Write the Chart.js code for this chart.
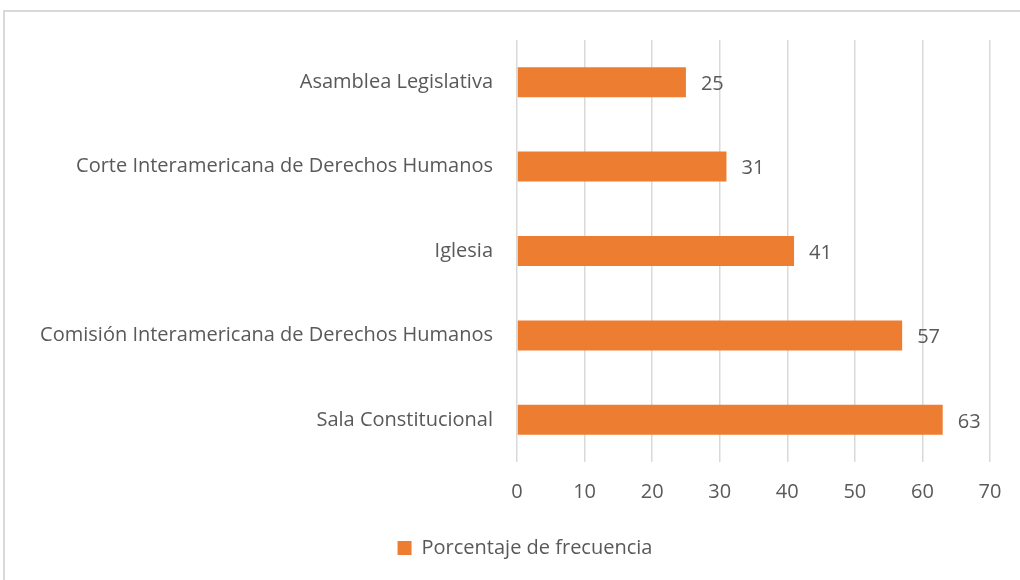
<!DOCTYPE html>
<html>
<head>
<meta charset="utf-8">
<script src="https://cdn.jsdelivr.net/npm/chart.js@4"></script>
<style>
  html, body { margin: 0; padding: 0; background: #fff; overflow: hidden; }
  #frame { position: absolute; left: 3px; top: 10px; width: 1040px; height: 600px; border: 2px solid #d9d9d9; box-sizing: border-box; }
  #c { position: absolute; left: 0; top: 0; }
</style>
</head>
<body>
<div id="frame"></div>
<canvas id="c" width="1020" height="580"></canvas>
<script>
const categories = [
  "Asamblea Legislativa",
  "Corte Interamericana de Derechos Humanos",
  "Iglesia",
  "Comisión Interamericana de Derechos Humanos",
  "Sala Constitucional"
];
const seriesName = "Porcentaje de frecuencia";
const values = [25, 31, 41, 57, 63];
const xTicks = [0, 10, 20, 30, 40, 50, 60, 70];

const FONT = "'Open Sans', sans-serif";
const TEXT = "#595959";
const FS = 20;

const valueLabels = {
  id: "valueLabels",
  afterDatasetsDraw(chart) {
    const ctx = chart.ctx;
    const meta = chart.getDatasetMeta(0);
    ctx.save();
    ctx.font = FS + "px " + FONT;
    ctx.fillStyle = TEXT;
    ctx.textAlign = "left";
    ctx.textBaseline = "middle";
    meta.data.forEach((bar, i) => {
      ctx.fillText(String(values[i]), bar.x + 15, bar.y + 2);
    });
    ctx.restore();
  }
};

const legendShift = {
  id: "legendShift",
  afterLayout(chart) {
    if (chart.legend) { chart.legend.left += 30; chart.legend.right += 30; }
  }
};

new Chart(document.getElementById("c"), {
  type: "bar",
  data: {
    labels: categories,
    datasets: [{
      label: seriesName,
      data: values,
      backgroundColor: "#ED7D31",
      borderWidth: 0,
      categoryPercentage: 1,
      barPercentage: 0.355
    }]
  },
  options: {
    indexAxis: "y",
    responsive: false,
    animation: false,
    layout: { padding: { left: 0, right: 30, top: 40, bottom: 12 } },
    scales: {
      x: {
        min: 0, max: 70,
        afterBuildTicks(scale) { scale.ticks = xTicks.map(v => ({ value: v })); },
        grid: { color: "#d9d9d9", lineWidth: 1.5, drawTicks: false },
        border: { display: false },
        ticks: { color: TEXT, font: { family: FONT, size: FS }, padding: 18 }
      },
      y: {
        afterFit(scale) { scale.width = 517; },
        grid: { display: false, drawTicks: false },
        border: { display: false },
        ticks: { color: TEXT, font: { family: FONT, size: FS }, padding: 24 }
      }
    },
    plugins: {
      legend: {
        position: "bottom",
        labels: {
          color: TEXT,
          font: { family: FONT, size: FS },
          boxWidth: 14, boxHeight: 14,
          padding: 16
        }
      },
      tooltip: { enabled: false }
    }
  },
  plugins: [valueLabels, legendShift]
});
</script>
</body>
</html>
